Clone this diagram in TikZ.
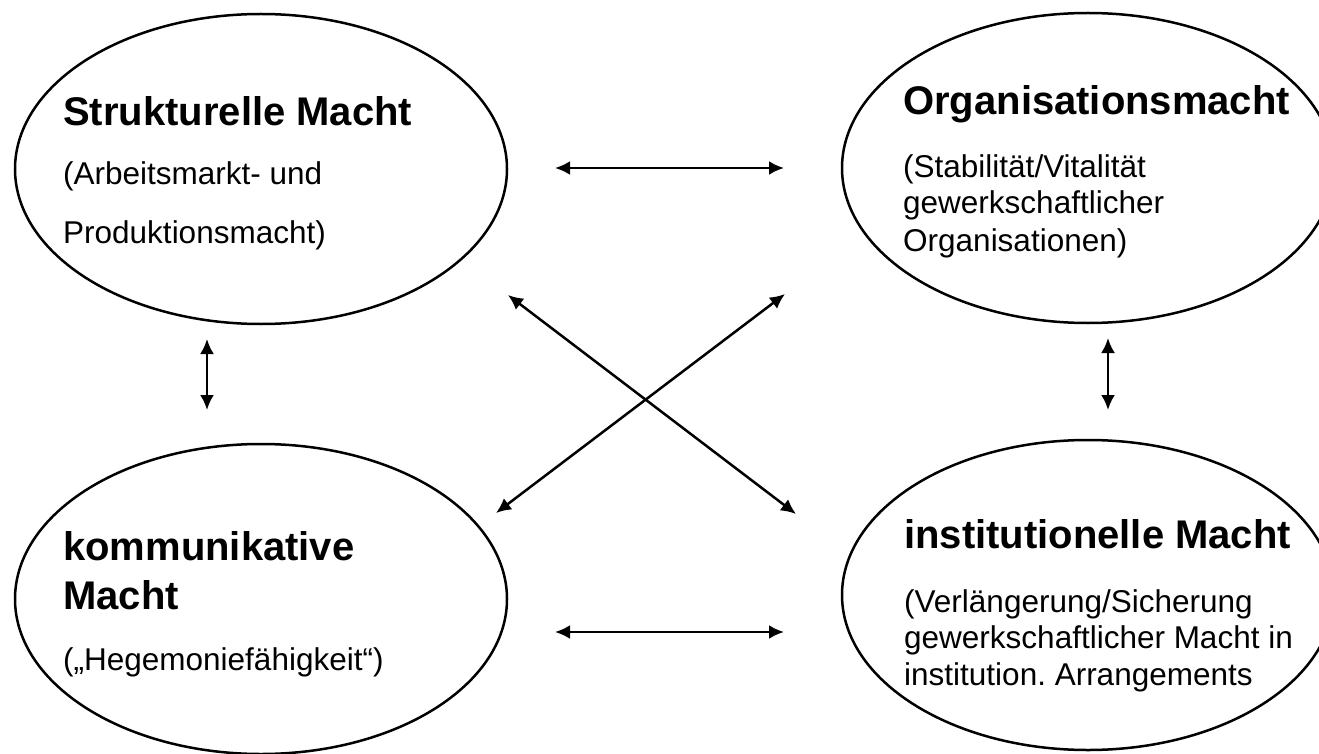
\documentclass[tikz,border=0pt]{standalone}
\usepackage{fontspec}
\setmainfont{Liberation Sans}
\usetikzlibrary{shapes.geometric,arrows.meta}
\frenchspacing
\begin{document}
\begin{tikzpicture}[x=1pt,y=-1pt,
  oval/.style={draw,line width=2.5pt,ellipse,minimum width=492pt,minimum height=310pt,inner sep=0pt},
  ttl/.style={anchor=base west,inner sep=0pt,font=\fontsize{40}{44}\selectfont\bfseries},
  sub/.style={anchor=base west,inner sep=0pt,font=\fontsize{31.5}{36}\selectfont},
  link/.style={line width=2.5pt,{Latex[length=15pt,width=14pt]}-{Latex[length=15pt,width=14pt]}}]
\useasboundingbox (0,0) rectangle (1319,754);
\clip (0,0) rectangle (1319,754);
\fill[white] (0,0) rectangle (1319,754);
% ellipses
\node[oval] (tl) at (261,169) {};
\node[oval] (tr) at (1088,168) {};
\node[oval] (bl) at (261,599) {};
\node[oval] (br) at (1088,595) {};
% texts
\node[ttl] (tlt) at (63,126) {Strukturelle Macht};
\node[sub] (tl1) at (63,185) {(Arbeitsmarkt- und};
\node[sub] (tl2) at (63,243) {Produktionsmacht)};
\node[ttl] (trt) at (903,115) {Organisationsmacht};
\node[sub] (tr1) at (903,178) {(Stabilität/Vitalität};
\node[sub] (tr2) at (903,214) {gewerkschaftlicher};
\node[sub] (tr3) at (903,251) {Organisationen)};
\node[ttl] (blt) at (63,560) {kommunikative};
\node[ttl] (blt2) at (63,609) {Macht};
\node[sub] (bl1) at (63,670) {(„Hegemoniefähigkeit“)};
\node[ttl] (brt) at (904,548) {institutionelle Macht};
\node[sub] (br1) at (904,612) {(Verlängerung/Sicherung};
\node[sub] (br2) at (904,648) {gewerkschaftlicher Macht in};
\node[sub] (br3) at (904,685) {institution. Arrangements};
% arrow end points
\coordinate (h1a) at (555,168);
\coordinate (h1b) at (784,168);
\coordinate (h2a) at (555,632);
\coordinate (h2b) at (784,632);
\coordinate (v1a) at (207,339);
\coordinate (v1b) at (207,410);
\coordinate (v2a) at (1108,338);
\coordinate (v2b) at (1108,410);
\coordinate (d1a) at (508,295);
\coordinate (d1b) at (796,514);
\coordinate (d2a) at (785,294);
\coordinate (d2b) at (496,513);
\draw[link] (h1a) -- (h1b);
\draw[link] (h2a) -- (h2b);
\draw[link] (v1a) -- (v1b);
\draw[link] (v2a) -- (v2b);
\draw[link] (d1a) -- (d1b);
\draw[link] (d2a) -- (d2b);
\end{tikzpicture}
\end{document}
